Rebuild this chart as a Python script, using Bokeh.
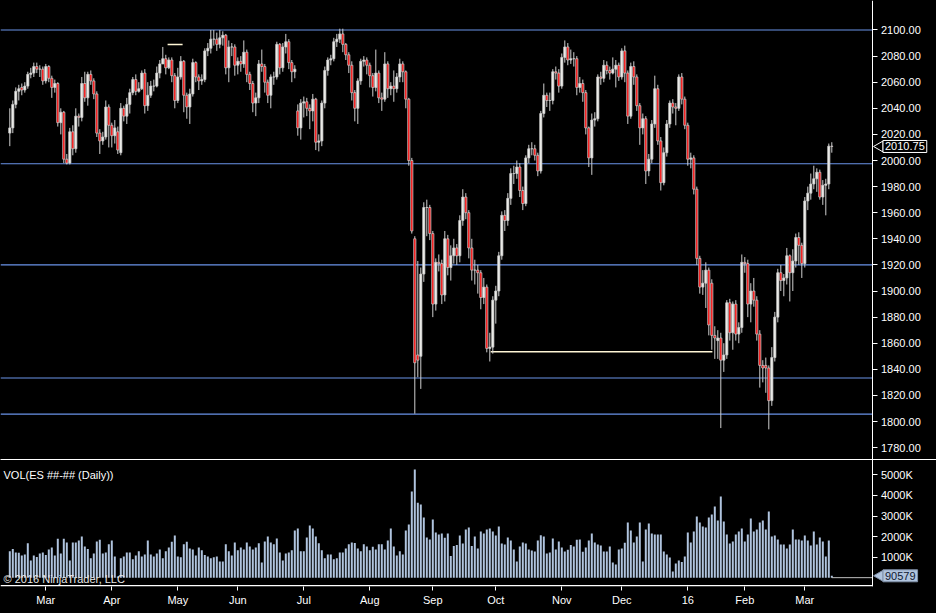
from bokeh.plotting import figure
from bokeh.models import (ColumnDataSource, Label, FixedTicker, LinearAxis,
                          Range1d, NumeralTickFormatter, GlobalInlineStyleSheet)
from bokeh.layouts import column
from bokeh.embed import file_html
from bokeh.resources import INLINE

# ---------------- data ----------------
opens = [
 2021, 2025, 2043, 2053, 2056, 2054, 2057, 2066, 2067, 2072,
 2070, 2070, 2061, 2072, 2063, 2056, 2059, 2029, 2037, 2001,
 1998, 2022, 2009, 2034, 2033, 2059, 2048, 2066, 2061, 2051,
 2021, 2015, 2018, 2041, 2027, 2019, 2022, 2006, 2040, 2034,
 2043, 2052, 2062, 2053, 2055, 2067, 2042, 2050, 2057, 2057,
 2067, 2074, 2078, 2071, 2077, 2065, 2046, 2064, 2076, 2050,
 2041, 2051, 2075, 2064, 2061, 2062, 2084, 2086, 2093, 2093,
 2089, 2094, 2096, 2071, 2087, 2087, 2073, 2076, 2074, 2083,
 2066, 2059, 2044, 2048, 2074, 2072, 2060, 2050, 2064, 2064,
 2089, 2071, 2087, 2091, 2075, 2068, 2038, 2025, 2044, 2045,
 2040, 2038, 2047, 2014, 2015, 2044, 2069, 2077, 2078, 2091,
 2093, 2097, 2089, 2081, 2073, 2052, 2040, 2061, 2076, 2077,
 2073, 2065, 2056, 2067, 2048, 2047, 2074, 2055, 2057, 2055,
 2064, 2074, 2068, 2047, 2000, 1940, 1851, 1850, 1913, 1964,
 1964, 1944, 1890, 1922, 1921, 1897, 1940, 1918, 1927, 1933,
 1927, 1954, 1972, 1960, 1933, 1916, 1916, 1914, 1895, 1903,
 1856, 1857, 1893, 1900, 1927, 1958, 1954, 1971, 1990, 1990,
 1995, 1977, 1967, 2002, 2009, 2009, 2004, 1992, 2036, 2050,
 2046, 2046, 2068, 2067, 2057, 2079, 2087, 2077, 2078, 2078,
 2056, 2059, 2052, 2025, 2002, 2031, 2032, 2064, 2063, 2073,
 2069, 2067, 2070, 2073, 2064, 2084, 2067, 2034, 2072, 2064,
 2042, 2025, 2032, 1992, 2001, 2028, 2055, 2015, 1983, 2006,
 2028, 2044, 2041, 2040, 2064, 2047, 2027, 2001, 2002, 1978,
 1925, 1903, 1906, 1916, 1906, 1866, 1862, 1864, 1847, 1851,
 1891, 1868, 1890, 1867, 1872, 1922, 1921, 1890, 1900, 1893,
 1867, 1843, 1843, 1841, 1816, 1849, 1880, 1914, 1908, 1910,
 1927, 1914, 1923, 1941, 1935, 1921, 1969, 1975, 1982, 1986,
 1991, 1972, 1981, 1982, 2011]

closes = [
 2025, 2043, 2053, 2055, 2054, 2057, 2066, 2067, 2072, 2070,
 2070, 2061, 2072, 2063, 2056, 2059, 2029, 2037, 2001, 1998,
 2022, 2009, 2034, 2033, 2059, 2048, 2066, 2061, 2051, 2021,
 2015, 2018, 2041, 2027, 2019, 2025, 2008, 2040, 2034, 2043,
 2052, 2062, 2053, 2055, 2067, 2042, 2050, 2057, 2057, 2067,
 2074, 2078, 2071, 2077, 2065, 2046, 2064, 2076, 2050, 2041,
 2051, 2075, 2064, 2061, 2062, 2084, 2086, 2093, 2093, 2089,
 2094, 2096, 2071, 2087, 2087, 2073, 2076, 2074, 2083, 2066,
 2059, 2044, 2048, 2074, 2072, 2060, 2050, 2064, 2064, 2089,
 2071, 2087, 2091, 2075, 2068, 2070, 2025, 2044, 2045, 2040,
 2038, 2047, 2014, 2015, 2044, 2069, 2077, 2078, 2091, 2093,
 2097, 2089, 2081, 2073, 2052, 2040, 2061, 2076, 2077, 2073,
 2065, 2056, 2067, 2048, 2047, 2074, 2055, 2057, 2055, 2064,
 2074, 2068, 2047, 2000, 1946, 1845, 1847, 1913, 1964, 1964,
 1944, 1890, 1922, 1921, 1897, 1940, 1918, 1927, 1933, 1927,
 1954, 1972, 1960, 1933, 1916, 1916, 1914, 1895, 1903, 1856,
 1857, 1893, 1900, 1927, 1958, 1954, 1971, 1990, 1990, 1995,
 1977, 1967, 2002, 2009, 2009, 2004, 1992, 2036, 2050, 2046,
 2046, 2068, 2067, 2057, 2079, 2087, 2077, 2078, 2078, 2056,
 2059, 2052, 2025, 2002, 2031, 2032, 2064, 2063, 2073, 2069,
 2067, 2070, 2073, 2064, 2084, 2067, 2034, 2072, 2064, 2042,
 2025, 2032, 1992, 2001, 2028, 2055, 2015, 1983, 2006, 2028,
 2044, 2041, 2040, 2064, 2047, 2027, 2001, 2002, 1978, 1925,
 1903, 1906, 1916, 1874, 1866, 1864, 1864, 1847, 1851, 1891,
 1868, 1890, 1867, 1872, 1922, 1921, 1890, 1900, 1893, 1867,
 1843, 1841, 1841, 1816, 1849, 1880, 1914, 1908, 1910, 1927,
 1914, 1923, 1941, 1935, 1921, 1969, 1975, 1982, 1986, 1991,
 1972, 1981, 1982, 2011, 2010.75]

highs = [
 2040, 2046, 2056, 2058, 2059, 2060, 2068, 2071, 2075, 2075,
 2073, 2072, 2074, 2073, 2065, 2062, 2060, 2040, 2038, 2005,
 2025, 2027, 2040, 2036, 2064, 2068, 2068, 2069, 2063, 2053,
 2024, 2022, 2046, 2043, 2029, 2031, 2026, 2044, 2042, 2048,
 2055, 2064, 2066, 2060, 2069, 2070, 2060, 2061, 2062, 2072,
 2077, 2087, 2081, 2079, 2079, 2067, 2071, 2080, 2077, 2052,
 2055, 2078, 2076, 2066, 2066, 2086, 2090, 2100, 2100, 2098,
 2100, 2099, 2097, 2092, 2090, 2089, 2079, 2080, 2092, 2085,
 2068, 2061, 2052, 2077, 2085, 2074, 2062, 2066, 2068, 2091,
 2090, 2090, 2097, 2093, 2077, 2073, 2043, 2047, 2049, 2048,
 2043, 2051, 2048, 2020, 2046, 2072, 2079, 2081, 2094, 2097,
 2101, 2101, 2090, 2083, 2076, 2054, 2063, 2078, 2080, 2079,
 2075, 2067, 2085, 2069, 2052, 2083, 2076, 2060, 2069, 2067,
 2078, 2076, 2069, 2048, 2002, 1942, 1923, 1918, 1968, 1970,
 1966, 1946, 1925, 1928, 1924, 1946, 1943, 1935, 1940, 1936,
 1958, 1978, 1975, 1962, 1940, 1924, 1920, 1916, 1910, 1905,
 1868, 1896, 1904, 1930, 1961, 1962, 1975, 1994, 1996, 2000,
 1998, 1980, 2004, 2012, 2014, 2012, 2006, 2038, 2059, 2052,
 2052, 2070, 2072, 2070, 2082, 2092, 2090, 2085, 2083, 2080,
 2064, 2062, 2054, 2026, 2036, 2037, 2066, 2068, 2077, 2076,
 2072, 2079, 2077, 2075, 2086, 2088, 2069, 2075, 2076, 2066,
 2044, 2036, 2034, 2005, 2031, 2065, 2058, 2018, 2010, 2031,
 2046, 2047, 2044, 2066, 2067, 2049, 2029, 2006, 2004, 1980,
 1927, 1916, 1922, 1918, 1909, 1873, 1870, 1868, 1860, 1893,
 1894, 1892, 1893, 1876, 1928, 1926, 1924, 1906, 1910, 1896,
 1870, 1847, 1849, 1843, 1857, 1884, 1917, 1920, 1913, 1933,
 1928, 1932, 1944, 1945, 1937, 1972, 1980, 1990, 1996, 1994,
 1993, 1985, 1986, 2013, 2014]

lows = [
 2011, 2021, 2040, 2046, 2050, 2052, 2055, 2063, 2064, 2067,
 2064, 2058, 2059, 2060, 2048, 2052, 2026, 2020, 1998, 1997,
 1997, 2004, 2006, 2026, 2030, 2045, 2042, 2058, 2047, 2018,
 2005, 2012, 2016, 2010, 2010, 2013, 2005, 2004, 2030, 2028,
 2036, 2050, 2050, 2052, 2054, 2036, 2038, 2048, 2053, 2056,
 2063, 2074, 2066, 2070, 2060, 2040, 2044, 2062, 2037, 2032,
 2028, 2049, 2060, 2054, 2058, 2060, 2080, 2082, 2088, 2084,
 2086, 2088, 2066, 2060, 2080, 2065, 2066, 2068, 2071, 2060,
 2054, 2037, 2034, 2044, 2068, 2052, 2044, 2040, 2058, 2062,
 2066, 2068, 2082, 2070, 2060, 2063, 2019, 2016, 2033, 2034,
 2024, 2030, 2008, 2007, 2011, 2040, 2065, 2073, 2076, 2087,
 2090, 2083, 2077, 2067, 2046, 2030, 2028, 2058, 2072, 2066,
 2056, 2049, 2053, 2044, 2038, 2045, 2048, 2050, 2045, 2052,
 2060, 2060, 2040, 1996, 1944, 1806, 1834, 1825, 1907, 1942,
 1939, 1880, 1885, 1915, 1890, 1892, 1912, 1908, 1921, 1920,
 1922, 1950, 1955, 1925, 1908, 1905, 1898, 1886, 1890, 1853,
 1846, 1852, 1875, 1896, 1924, 1946, 1950, 1966, 1982, 1986,
 1972, 1962, 1965, 1998, 2004, 2000, 1988, 1990, 2033, 2041,
 2038, 2043, 2062, 2052, 2055, 2075, 2073, 2074, 2072, 2050,
 2052, 2045, 2020, 1995, 1989, 2026, 2030, 2058, 2060, 2066,
 2062, 2066, 2056, 2061, 2062, 2060, 2028, 2032, 2058, 2038,
 2012, 2020, 1982, 1988, 1998, 2025, 2012, 1977, 1981, 2003,
 2025, 2036, 2027, 2038, 2043, 2024, 1996, 1994, 1974, 1920,
 1898, 1897, 1887, 1866, 1855, 1848, 1848, 1795, 1838, 1848,
 1862, 1855, 1862, 1860, 1868, 1914, 1880, 1876, 1888, 1862,
 1826, 1830, 1822, 1794, 1812, 1846, 1876, 1900, 1896, 1905,
 1892, 1900, 1918, 1920, 1910, 1918, 1962, 1970, 1978, 1976,
 1970, 1966, 1958, 1978, 2006]

volumes_k = [
 1280, 1400, 1230, 1210, 1080, 1130, 1670, 840, 1080, 1000,
 1180, 1230, 1100, 1370, 1470, 1080, 1890, 1180, 1890, 1710,
 840, 1710, 1710, 1810, 2000, 1520, 1400, 940, 1180, 1760,
 1840, 1180, 1230, 1620, 1810, 1030, 60, 940, 1030, 1230,
 1230, 890, 1080, 1280, 1030, 1130, 1810, 1130, 1030, 1180,
 1370, 940, 1280, 1470, 1750, 2050, 1030, 990, 1620, 1750,
 1420, 1370, 1080, 1470, 1330, 1100, 1030, 940, 990, 1030,
 790, 790, 1620, 1280, 1080, 1710, 1330, 1470, 1370, 1710,
 1520, 1370, 1470, 1670, 740, 1760, 2000, 1710, 1620, 1910,
 1230, 840, 1180, 1230, 1330, 2300, 2390, 1280, 1280, 1960,
 2540, 2390, 2000, 1670, 1330, 940, 1130, 1130, 900, 950,
 1230, 1230, 1420, 1620, 1710, 1690, 1420, 1280, 1620, 1520,
 1330, 1500, 1370, 1620, 1620, 1370, 1810, 2390, 1520, 1080,
 1280, 1130, 2300, 2590, 4190, 5260, 3650, 3560, 2930, 1960,
 1860, 2830, 2200, 2100, 2150, 1940, 2150, 1050, 1535, 1584,
 2053, 1665, 2344, 2442, 1535, 2005, 1422, 2247, 2150, 2344,
 2393, 2247, 2053, 2490, 1665, 1616, 1956, 1811, 1374, 791,
 1519, 1713, 1665, 1374, 1325, 1277, 1811, 2069, 2005, 1180,
 1228, 1908, 1374, 1762, 1471, 1277, 1358, 1584, 1519, 1843,
 1859, 1260, 1471, 1811, 2150, 1713, 1616, 1568, 1277, 1277,
 1519, 743, 646, 1374, 1422, 1697, 2684, 2296, 1713, 2005,
 2684, 791, 2344, 2636, 2150, 2102, 2102, 2102, 1277, 1131,
 985, 306, 694, 840, 759, 1034, 2199, 1713, 2247, 2976,
 2684, 2490, 2442, 2927, 3073, 3461, 2781, 3947, 2733, 2102,
 1665, 1762, 2102, 2247, 2393, 1762, 2102, 2878, 2247, 2344,
 2684, 2781, 2344, 3218, 2005, 2053, 1859, 1616, 1616, 1422,
 1616, 2344, 1859, 1859, 1811, 2053, 1811, 1568, 2247, 1616,
 1956, 1762, 1034, 1811, 90.579]

month_tick_index = [12, 34, 56, 76, 98, 120, 141, 162, 184, 204, 226, 245, 265]
month_tick_labels = ["Mar", "Apr", "May", "Jun", "Jul", "Aug", "Sep", "Oct",
                     "Nov", "Dec", "16", "Feb", "Mar"]
price_ticks = [1780, 1800, 1820, 1840, 1860, 1880, 1900, 1920, 1940, 1960,
               1980, 2000, 2020, 2040, 2060, 2080, 2100]
vol_ticks = [1000, 2000, 3000, 4000, 5000]
vol_tick_labels = ["1000K", "2000K", "3000K", "4000K", "5000K"]
level_lines = [2100, 1997.5, 1920, 1833.3, 1805.7]
drawn_x0 = [52.6, 160.3]
drawn_x1 = [57.6, 234.2]
drawn_y = [2088.9, 1853.4]

# ---------------- layout / styling ----------------
FONT = "Liberation Sans"
FS = "11px"
n = min(len(opens), len(closes), len(highs), len(lows), len(volumes_k))
idx = list(range(n))
X0, X_END = -3.1, 308.9        # frame spans the whole window width
X_AXIS = 287.73                # where the price / volume scales sit

up = [closes[i] >= opens[i] for i in idx]
src = ColumnDataSource(dict(
    x=idx, h=highs[:n], l=lows[:n],
    top=[max(opens[i], closes[i]) for i in idx],
    bot=[min(opens[i], closes[i]) for i in idx],
    fill=["#f2f2ee" if u else "#ff0000" for u in up],
    vol=volumes_k[:n],
))


def style_axis(ax):
    ax.axis_line_color = "white"
    ax.major_tick_line_color = "white"
    ax.minor_tick_line_color = None
    ax.major_tick_out = 5
    ax.major_tick_in = 0
    ax.major_label_text_color = "white"
    ax.major_label_text_font = FONT
    ax.major_label_text_font_size = FS


# ---------- price panel ----------
p = figure(frame_width=936, frame_height=459,
           x_range=Range1d(X0, X_END), y_range=Range1d(1770.9, 2122.6),
           output_backend="svg", toolbar_location=None,
           background_fill_color="black", border_fill_color="black",
           outline_line_color=None, min_border=0,
           x_axis_location=None, y_axis_location="right")
p.grid.visible = False
style_axis(p.yaxis[0])
p.yaxis[0].fixed_location = X_AXIS
p.yaxis[0].ticker = FixedTicker(ticks=price_ticks)
p.yaxis[0].formatter = NumeralTickFormatter(format="0.00")
p.yaxis[0].major_label_standoff = 3

p.segment(x0=[X0] * len(level_lines), x1=[X_AXIS] * len(level_lines),
          y0=level_lines, y1=level_lines, line_color="#6a93e8", line_width=1.1)
p.segment(x0=drawn_x0, y0=drawn_y, x1=drawn_x1, y1=drawn_y,
          line_color="#fff6d5", line_width=1.5)

p.segment(x0="x", y0="l", x1="x", y1="h", source=src, line_color="#cfcfcf", line_width=1)
p.vbar(x="x", top="top", bottom="bot", width=0.72, source=src,
       fill_color="fill", line_color="#c8c8c8", line_width=0.8)

last_price = closes[n - 1]
p.scatter(x=[X_AXIS + 2.3], y=[last_price], marker="triangle", angle=1.5708,
          size=11, fill_color="black", line_color="white", line_width=1)
p.add_layout(Label(x=X_AXIS, y=last_price, x_offset=10, text=f"{last_price:.2f}",
                   text_color="white", text_font=FONT, text_font_size=FS,
                   text_baseline="middle", background_fill_color="black",
                   border_line_color="white", border_line_width=1, padding=2))

# ---------- volume panel ----------
v = figure(frame_width=936, frame_height=127,
           x_range=p.x_range, y_range=Range1d(-430, 5750),
           output_backend="svg", toolbar_location=None,
           background_fill_color="black", border_fill_color="black",
           outline_line_color=None, min_border=0,
           x_axis_location="below", y_axis_location="right")
v.grid.visible = False
style_axis(v.yaxis[0])
v.yaxis[0].fixed_location = X_AXIS
v.yaxis[0].ticker = FixedTicker(ticks=vol_ticks)
v.yaxis[0].major_label_overrides = {t: s for t, s in zip(vol_ticks, vol_tick_labels)}
v.yaxis[0].major_label_standoff = 3
style_axis(v.xaxis[0])
v.xaxis[0].axis_line_color = None
v.xaxis[0].ticker = FixedTicker(ticks=month_tick_index)
v.xaxis[0].major_label_overrides = {t: s for t, s in zip(month_tick_index, month_tick_labels)}
v.xaxis[0].major_tick_out = 4
v.xaxis[0].major_label_standoff = 3

top_ax = LinearAxis(ticker=FixedTicker(ticks=[]), axis_line_color="white",
                    major_label_text_font_size="0px", major_tick_line_color=None,
                    minor_tick_line_color=None)
v.add_layout(top_ax, "above")

v.segment(x0=[X0], y0=[-390], x1=[X_AXIS], y1=[-390], line_color="white", line_width=1.5)
v.vbar(x="x", top="vol", bottom=0, width=0.66, source=src,
       fill_color="#b0c4de", line_color=None)
v.segment(x0=[n - 1], y0=[0], x1=[X_AXIS], y1=[0], line_color="#bfbfbf", line_width=1)

v.add_layout(Label(x=X0, y=5000, x_offset=3, text="VOL(ES ##-## (Daily))",
                   text_color="white", text_font=FONT, text_font_size=FS,
                   text_baseline="middle"))
v.add_layout(Label(x=X0, y=-390, x_offset=3, y_offset=1, text="© 2016 NinjaTrader, LLC",
                   text_color="#e8e8e8", text_font=FONT, text_font_size=FS,
                   text_baseline="bottom"))
last_vol = volumes_k[n - 1]
v.scatter(x=[X_AXIS + 2.3], y=[last_vol], marker="triangle", angle=1.5708,
          size=11, fill_color="#b0c4de", line_color="#8090a8", line_width=1)
v.add_layout(Label(x=X_AXIS, y=last_vol, x_offset=10, text=f"{int(round(last_vol * 1000))}",
                   text_color="#101830", text_font=FONT, text_font_size=FS,
                   text_baseline="middle", background_fill_color="#b0c4de",
                   border_line_color="#8090a8", border_line_width=1, padding=2))

layout = column(p, v, spacing=0, background="black",
                stylesheets=[GlobalInlineStyleSheet(css="html, body { background: #000; }")])

open("out.html", "w").write(file_html(layout, INLINE))
